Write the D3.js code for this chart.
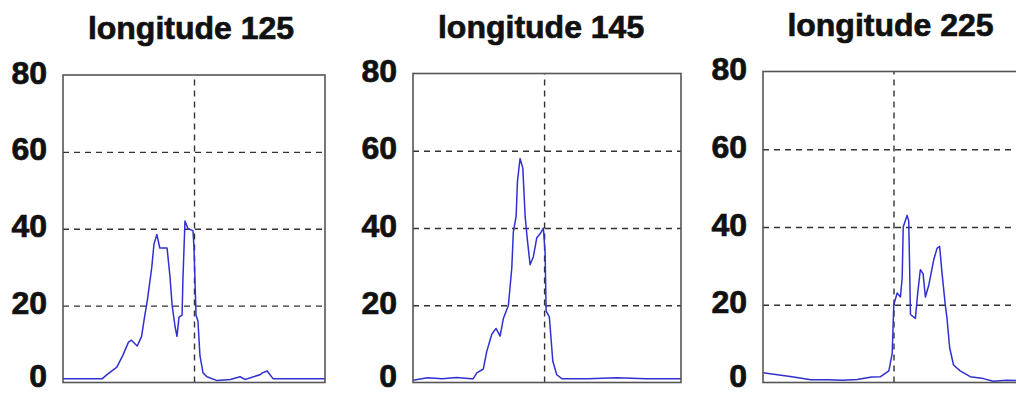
<!DOCTYPE html>
<html>
<head>
<meta charset="utf-8">
<script src="https://cdn.jsdelivr.net/npm/d3@7"></script>
<style>
  html, body { margin: 0; padding: 0; background: #fff; }
  svg { display: block; }
  .title { font-family: "Liberation Sans", Arial, sans-serif; font-weight: bold; font-size: 32px; fill: #111; stroke: #111; stroke-width: 0.7; }
  .yaxis text { font-family: "Liberation Sans", Arial, sans-serif; font-weight: bold; font-size: 32px; fill: #111; stroke: #111; stroke-width: 0.7; }
  .grid line { stroke: #333; stroke-width: 1.4; stroke-dasharray: 6 5; }
  .frame { fill: none; stroke: #555; stroke-width: 1.6; }
  .trace { fill: none; stroke: #3030d0; stroke-width: 1.5; stroke-linejoin: round; }
</style>
</head>
<body>
<div id="chart"></div>
<script>
// panel titles and y ticks
var titles = ["longitude 125", "longitude 145", "longitude 225"];
var yTicks = [0, 20, 40, 60, 80];
var gridY = [20, 40, 60];
var gridX = [0];

// longitude 125 (latitude vs value)
var lat125 = [-90, -75, -63, -60, -53, -49, -45, -43, -39, -36, -34, -32, -29, -27.5, -25.5, -23.5,
  -18.5, -16.5, -15, -13, -11.7, -10.3, -8.2, -7.6, -6.2, -4.1, -0.7, 0, 1.4, 2.7, 4.1, 6.2, 8.9,
  15.8, 25, 31.6, 35, 45.3, 47, 50.2, 54.3, 70, 90];
var val125 = [1, 1, 1, 2, 4, 7, 10.5, 11, 9.5, 12, 17, 21.5, 30, 36, 38.5, 35,
  35, 27.5, 20, 14.5, 12, 17, 17.5, 27, 42, 40, 39.5, 35, 17.5, 16, 7, 2.5, 1.5,
  0.5, 0.8, 1.5, 0.8, 2, 2.5, 3, 1, 1, 1];

// longitude 145
var lat145 = [-90, -80, -70, -60, -50, -48.6, -46.2, -41.7, -39.4, -35.9, -33, -30.2, -28, -24.5,
  -22.2, -21.1, -19.2, -18.3, -16.5, -14.6, -13, -11.5, -9.6, -7.4, -5, -2.7, -0.5, 0.7, 1.4, 3.6,
  6, 8.7, 12.2, 30, 50, 70, 94];
var val145 = [0.6, 1.2, 1, 1.3, 1, 1, 2.5, 3.5, 8, 12.5, 14, 12, 16.5, 20,
  29.5, 39, 43, 52, 58, 55.5, 43, 37, 30.5, 32.5, 37.5, 38.5, 40, 33.5, 18.5, 17,
  5.5, 2, 1, 1, 1.2, 1, 1];

// longitude 225
var lat225 = [-90, -80, -70, -57, -45, -35, -25, -15, -8.9, -3.2, -0.9, 0.2, 2.5, 4.8, 6, 6.7,
  9.4, 10.5, 11.2, 11.7, 15.1, 16.7, 18.5, 20.4, 22, 24.3, 27.7, 30, 31.8, 33.5, 35.7, 36.9,
  38.7, 41.4, 46, 52.9, 62, 68.9, 78, 90];
var val225 = [2.5, 2, 1.5, 0.7, 0.7, 0.6, 0.8, 1.4, 1.5, 3, 7.5, 20, 23, 22, 27, 40,
  43, 41.5, 28, 17.5, 16.5, 23, 29, 28, 22, 25, 31.5, 34.5, 35, 28, 20, 16.5,
  9, 4.5, 3, 1.5, 1, 0.3, 0.6, 0.5];

var lats = [lat125, lat145, lat225];
var vals = [val125, val145, val225];
var latDomains = [[-90, 90], [-90, 94], [-90, 90]];

// page layout of the three panels
var W = 1016, H = 394;
var layout = [
  { left: 63, right: 325, top: 75 },
  { left: 413, right: 681, top: 73.5 },
  { left: 763, right: 1024, top: 71.5 }
];
var bottom = 382.5;

var svg = d3.select("#chart").append("svg")
  .attr("width", W)
  .attr("height", H);

//////////////////////////////////
function drawPanel(i) {
  var L = layout[i];
  var x = d3.scaleLinear().domain(latDomains[i]).range([L.left, L.right]);
  var y = d3.scaleLinear().domain([0, 80]).range([bottom, L.top]);
  var g = svg.append("g").attr("class", "panel");

  g.append("clipPath").attr("id", "clip" + i)
    .append("rect")
    .attr("x", L.left).attr("y", L.top)
    .attr("width", L.right - L.left).attr("height", bottom - L.top);

  // dashed grid
  g.append("g").attr("class", "grid")
    .attr("transform", "translate(" + L.left + ",0)")
    .call(d3.axisLeft(y).tickValues(gridY).tickSize(-(L.right - L.left)).tickFormat(""))
    .call(function(s) { s.select(".domain").remove(); });
  g.append("g").attr("class", "grid")
    .attr("transform", "translate(0," + bottom + ")")
    .call(d3.axisBottom(x).tickValues(gridX).tickSize(-(bottom - L.top)).tickFormat(""))
    .call(function(s) { s.select(".domain").remove(); });

  // data trace
  var pts = d3.zip(lats[i], vals[i]);
  g.append("path")
    .attr("class", "trace")
    .attr("clip-path", "url(#clip" + i + ")")
    .attr("d", d3.line().x(function(d) { return x(d[0]); }).y(function(d) { return y(d[1]); })(pts));

  // frame
  g.append("rect").attr("class", "frame")
    .attr("x", L.left).attr("y", L.top)
    .attr("width", L.right - L.left).attr("height", bottom - L.top);

  // y tick labels
  g.append("g").attr("class", "yaxis")
    .attr("transform", "translate(" + (L.left - 16) + ",0)")
    .call(d3.axisLeft(y).tickValues(yTicks).tickSize(0).tickPadding(0))
    .call(function(s) {
      s.select(".domain").remove();
      s.selectAll("text").attr("fill", null)
        .attr("dy", function(d) { return d === 0 ? "0.12em" : "0.25em"; });
      s.attr("font-size", null).attr("font-family", null);
    });

  // title
  g.append("text").attr("class", "title")
    .attr("x", x(0) - 3)
    .attr("y", 39 - (75 - L.top))
    .attr("text-anchor", "middle")
    .text(titles[i]);
}

titles.forEach(function(t, i) { drawPanel(i); });
</script>
</body>
</html>
